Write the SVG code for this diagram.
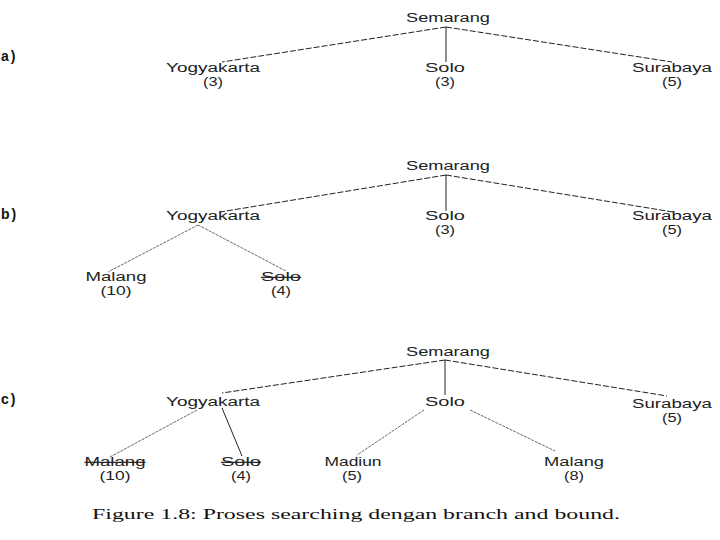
<svg xmlns="http://www.w3.org/2000/svg" width="720" height="540" viewBox="0 0 720 540">
<style>
  .lbl { font-family: "Liberation Sans", Arial, sans-serif; font-size: 12px; fill: #222; text-anchor: middle; }
  .tag { font-family: "Liberation Sans", Arial, sans-serif; font-size: 14px; font-weight: bold; letter-spacing: 2px; fill: #111; }
  .cut { text-decoration: line-through; }
  .dash { stroke: #222; stroke-width: 1; fill: none; stroke-dasharray: 6 2; }
  .fine { stroke: #444; stroke-width: 0.8; fill: none; stroke-dasharray: 3 1; }
  .solid { stroke: #222; stroke-width: 1; fill: none; }
  .cap { font-family: "Liberation Serif", "Times New Roman", serif; font-size: 15px; fill: #111; }
</style>
<rect width="720" height="540" fill="#fff"/>

<g id="connectors">
  <!-- a -->
  <line class="dash" x1="446" y1="27" x2="222" y2="62"/>
  <line class="solid" x1="446" y1="27" x2="446" y2="62"/>
  <line class="dash" x1="446" y1="27" x2="672" y2="62"/>
  <!-- b -->
  <line class="dash" x1="446" y1="175" x2="220" y2="212"/>
  <line class="solid" x1="446" y1="175" x2="446" y2="211"/>
  <line class="dash" x1="446" y1="175" x2="673" y2="212"/>
  <line class="fine" x1="198" y1="225" x2="108" y2="272"/>
  <line class="fine" x1="198" y1="225" x2="286" y2="271"/>
  <!-- c -->
  <line class="dash" x1="445" y1="360" x2="222" y2="393"/>
  <line class="solid" x1="445" y1="360" x2="445" y2="395"/>
  <line class="dash" x1="445" y1="360" x2="667" y2="396"/>
  <line class="fine" x1="197" y1="410" x2="110" y2="457"/>
  <line class="solid" x1="222" y1="408" x2="242" y2="456"/>
  <line class="fine" x1="424" y1="410" x2="357" y2="455"/>
  <line class="fine" x1="470" y1="410" x2="555" y2="451"/>
</g>

<g id="tag-a"><text class="tag" x="1" y="61">a)</text></g>
<g id="tag-b"><text class="tag" x="1" y="219">b)</text></g>
<g id="tag-c"><text class="tag" x="1" y="404">c)</text></g>

<!-- a -->
<g id="a-semarang"><text class="lbl" x="448" y="22" textLength="84" lengthAdjust="spacingAndGlyphs">Semarang</text></g>
<g id="a-yogyakarta"><text class="lbl" x="213" y="72" textLength="94" lengthAdjust="spacingAndGlyphs">Yogyakarta</text><text class="lbl" x="213" y="86" textLength="20" lengthAdjust="spacingAndGlyphs">(3)</text></g>
<g id="a-solo"><text class="lbl" x="445" y="72" textLength="40" lengthAdjust="spacingAndGlyphs">Solo</text><text class="lbl" x="445" y="86" textLength="20" lengthAdjust="spacingAndGlyphs">(3)</text></g>
<g id="a-surabaya"><text class="lbl" x="672" y="72" textLength="80" lengthAdjust="spacingAndGlyphs">Surabaya</text><text class="lbl" x="672" y="86" textLength="20" lengthAdjust="spacingAndGlyphs">(5)</text></g>

<!-- b -->
<g id="b-semarang"><text class="lbl" x="448" y="170" textLength="84" lengthAdjust="spacingAndGlyphs">Semarang</text></g>
<g id="b-yogyakarta"><text class="lbl" x="213" y="220" textLength="94" lengthAdjust="spacingAndGlyphs">Yogyakarta</text></g>
<g id="b-solo"><text class="lbl" x="445" y="220" textLength="40" lengthAdjust="spacingAndGlyphs">Solo</text><text class="lbl" x="445" y="234" textLength="20" lengthAdjust="spacingAndGlyphs">(3)</text></g>
<g id="b-surabaya"><text class="lbl" x="672" y="220" textLength="80" lengthAdjust="spacingAndGlyphs">Surabaya</text><text class="lbl" x="672" y="234" textLength="20" lengthAdjust="spacingAndGlyphs">(5)</text></g>
<g id="b-malang"><text class="lbl" x="116" y="281" textLength="61" lengthAdjust="spacingAndGlyphs">Malang</text><text class="lbl" x="116" y="295" textLength="31" lengthAdjust="spacingAndGlyphs">(10)</text></g>
<g id="b-solo4"><text class="lbl cut" x="281" y="281" textLength="40" lengthAdjust="spacingAndGlyphs">Solo</text><text class="lbl" x="281" y="295" textLength="20" lengthAdjust="spacingAndGlyphs">(4)</text></g>

<!-- c -->
<g id="c-semarang"><text class="lbl" x="448" y="356" textLength="84" lengthAdjust="spacingAndGlyphs">Semarang</text></g>
<g id="c-yogyakarta"><text class="lbl" x="213" y="406" textLength="94" lengthAdjust="spacingAndGlyphs">Yogyakarta</text></g>
<g id="c-solo"><text class="lbl" x="445" y="406" textLength="40" lengthAdjust="spacingAndGlyphs">Solo</text></g>
<g id="c-surabaya"><text class="lbl" x="672" y="408" textLength="80" lengthAdjust="spacingAndGlyphs">Surabaya</text><text class="lbl" x="672" y="422" textLength="20" lengthAdjust="spacingAndGlyphs">(5)</text></g>
<g id="c-malang10"><text class="lbl cut" x="115" y="466" textLength="61" lengthAdjust="spacingAndGlyphs">Malang</text><text class="lbl" x="115" y="480" textLength="31" lengthAdjust="spacingAndGlyphs">(10)</text></g>
<g id="c-solo4"><text class="lbl cut" x="241" y="466" textLength="40" lengthAdjust="spacingAndGlyphs">Solo</text><text class="lbl" x="241" y="480" textLength="20" lengthAdjust="spacingAndGlyphs">(4)</text></g>
<g id="c-madiun"><text class="lbl" x="353" y="466" textLength="57" lengthAdjust="spacingAndGlyphs">Madiun</text><text class="lbl" x="352" y="480" textLength="20" lengthAdjust="spacingAndGlyphs">(5)</text></g>
<g id="c-malang8"><text class="lbl" x="574" y="466" textLength="60" lengthAdjust="spacingAndGlyphs">Malang</text><text class="lbl" x="574" y="480" textLength="20" lengthAdjust="spacingAndGlyphs">(8)</text></g>

<g id="caption"><text class="cap" x="92" y="519" textLength="528" lengthAdjust="spacingAndGlyphs">Figure 1.8: Proses searching dengan branch and bound.</text></g>
</svg>
